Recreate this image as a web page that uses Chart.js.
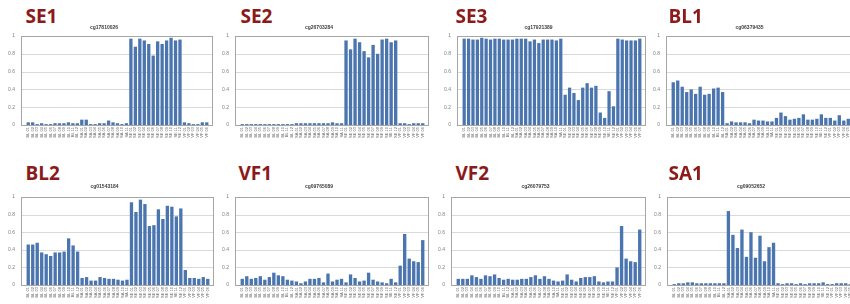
<!DOCTYPE html>
<html>
<head>
<meta charset="utf-8">
<script src="https://cdn.jsdelivr.net/npm/chart.js@4.4.0/dist/chart.umd.min.js"></script>
<style>
  body { margin: 0; width: 850px; height: 304px; overflow: hidden; background: #fff; position: relative; }
  .panel { position: absolute; }
  .tag { position: absolute; font-family: 'Open Sans', sans-serif; font-weight: bold; font-size: 19px; line-height: 19px; color: #8b1a1a; }
</style>
</head>
<body>
<script>
// sample labels on the x axis (BL, SA, SE, VF groups)
var categories = [
  'BL 01', 'BL 02', 'BL 03', 'BL 04', 'BL 05', 'BL 06', 'BL 07', 'BL 08', 'BL 09', 'BL 10', 'BL 11', 'BL 12',
  'SA 01', 'SA 02', 'SA 03', 'SA 04', 'SA 05', 'SA 06', 'SA 07', 'SA 08', 'SA 09', 'SA 10', 'SA 11',
  'SE 01', 'SE 02', 'SE 03', 'SE 04', 'SE 05', 'SE 06', 'SE 07', 'SE 08', 'SE 09', 'SE 10', 'SE 11', 'SE 12',
  'VF 01', 'VF 02', 'VF 03', 'VF 04', 'VF 05', 'VF 06'
];
var yTicks = [0, 0.2, 0.4, 0.6, 0.8, 1];

// methylation values per probe
var se1Values = [0.03, 0.03, 0.01, 0.02, 0.01, 0.01, 0.02, 0.02, 0.02, 0.03, 0.02, 0.02,
  0.06, 0.06, 0.01, 0.01, 0.02, 0.02, 0.05, 0.03, 0.02, 0.01, 0.02,
  0.97, 0.88, 0.97, 0.95, 0.91, 0.78, 0.94, 0.91, 0.95, 0.98, 0.95, 0.96,
  0.03, 0.02, 0.01, 0.01, 0.03, 0.03];
var se2Values = [0.01, 0.01, 0.01, 0.01, 0.01, 0.01, 0.01, 0.01, 0.01, 0.01, 0.01, 0.01,
  0.02, 0.02, 0.02, 0.02, 0.02, 0.02, 0.02, 0.02, 0.03, 0.02, 0.02,
  0.95, 0.85, 0.97, 0.93, 0.83, 0.76, 0.90, 0.80, 0.96, 0.97, 0.93, 0.95,
  0.02, 0.02, 0.01, 0.02, 0.02, 0.02];
var se3Values = [0.97, 0.97, 0.96, 0.96, 0.98, 0.97, 0.96, 0.97, 0.97, 0.96, 0.96, 0.96,
  0.97, 0.97, 0.97, 0.94, 0.96, 0.92, 0.96, 0.96, 0.96, 0.95, 0.97,
  0.34, 0.42, 0.36, 0.28, 0.42, 0.47, 0.42, 0.44, 0.14, 0.08, 0.38, 0.21,
  0.97, 0.96, 0.95, 0.95, 0.95, 0.97];
var bl1Values = [0.48, 0.50, 0.43, 0.37, 0.40, 0.35, 0.43, 0.34, 0.35, 0.41, 0.42, 0.37,
  0.02, 0.04, 0.03, 0.03, 0.03, 0.02, 0.06, 0.05, 0.05, 0.04, 0.04,
  0.08, 0.14, 0.10, 0.06, 0.07, 0.08, 0.12, 0.06, 0.06, 0.07, 0.12, 0.08,
  0.08, 0.05, 0.11, 0.05, 0.07, 0.07];
var bl2Values = [0.46, 0.46, 0.48, 0.37, 0.35, 0.33, 0.37, 0.37, 0.38, 0.53, 0.45, 0.38,
  0.08, 0.09, 0.05, 0.05, 0.09, 0.08, 0.07, 0.07, 0.06, 0.05, 0.06,
  0.94, 0.83, 0.97, 0.92, 0.67, 0.68, 0.86, 0.75, 0.90, 0.89, 0.78, 0.87,
  0.17, 0.08, 0.08, 0.07, 0.09, 0.07];
var vf1Values = [0.07, 0.10, 0.07, 0.08, 0.10, 0.06, 0.09, 0.14, 0.11, 0.10, 0.06, 0.05,
  0.04, 0.02, 0.04, 0.07, 0.07, 0.08, 0.03, 0.13, 0.04, 0.06, 0.07,
  0.03, 0.12, 0.08, 0.04, 0.05, 0.14, 0.06, 0.04, 0.03, 0.02, 0.07, 0.03,
  0.22, 0.58, 0.30, 0.27, 0.26, 0.51];
var vf2Values = [0.07, 0.07, 0.07, 0.11, 0.09, 0.07, 0.11, 0.10, 0.12, 0.08, 0.06, 0.07,
  0.06, 0.06, 0.07, 0.07, 0.09, 0.11, 0.07, 0.10, 0.07, 0.05, 0.04,
  0.05, 0.12, 0.06, 0.04, 0.08, 0.09, 0.09, 0.10, 0.04, 0.03, 0.04, 0.04,
  0.20, 0.67, 0.30, 0.27, 0.26, 0.63];
var sa1Values = [0.01, 0.02, 0.02, 0.03, 0.03, 0.02, 0.02, 0.02, 0.02, 0.02, 0.02, 0.02,
  0.84, 0.57, 0.42, 0.63, 0.32, 0.60, 0.31, 0.56, 0.27, 0.43, 0.48,
  0.02, 0.01, 0.02, 0.02, 0.01, 0.02, 0.01, 0.02, 0.02, 0.02, 0.03, 0.01,
  0.01, 0.02, 0.02, 0.02, 0.01, 0.02];

// plot box of each panel (left, right, top, bottom in page pixels)
var panels = [
  { tag: 'SE1', probe: 'cg17810026', values: se1Values, l: 21, r: 212, t: 36, b: 125, gap: 8, tagX: 25.5, tagY: 7 },
  { tag: 'SE2', probe: 'cg26703284', values: se2Values, l: 235, r: 428, t: 36, b: 125, gap: 8, tagX: 240.5, tagY: 7 },
  { tag: 'SE3', probe: 'cg17921389', values: se3Values, l: 457, r: 645, t: 36, b: 125, gap: 8, tagX: 455.5, tagY: 7 },
  { tag: 'BL1', probe: 'cg06379435', values: bl1Values, l: 666, r: 858, t: 36, b: 125, gap: 8, tagX: 668.5, tagY: 7 },
  { tag: 'BL2', probe: 'cg01543184', values: bl2Values, l: 21, r: 213, t: 197, b: 285, gap: 10, tagX: 25.5, tagY: 164 },
  { tag: 'VF1', probe: 'cg09765089', values: vf1Values, l: 235, r: 428, t: 197, b: 285, gap: 10, tagX: 238.5, tagY: 164 },
  { tag: 'VF2', probe: 'cg26079753', values: vf2Values, l: 451, r: 645, t: 197, b: 285, gap: 10, tagX: 455.5, tagY: 164 },
  { tag: 'SA1', probe: 'cg09052652', values: sa1Values, l: 667, r: 860, t: 197, b: 285, gap: 10, tagX: 668.5, tagY: 164 }
];

// frame and gridlines a little wider than the bar area, like the Excel plot box
var framePlugin = {
  id: 'frame',
  beforeDatasetsDraw: function(chart) {
    var ctx = chart.ctx, a = chart.chartArea, ys = chart.scales.y;
    var x0 = Math.round(a.left) - 5, x1 = Math.round(a.right) + 3;
    ctx.save();
    ctx.lineWidth = 1;
    ctx.strokeStyle = '#d9d9d9';
    yTicks.forEach(function(t) {
      if (t === 0 || t === 1) return;
      var py = Math.round(ys.getPixelForValue(t)) + 0.5;
      ctx.beginPath();
      ctx.moveTo(x0, py);
      ctx.lineTo(x1, py);
      ctx.stroke();
    });
    ctx.strokeStyle = '#a6a6a6';
    ctx.strokeRect(x0 + 0.5, Math.round(a.top) + 0.5, x1 - x0, Math.round(a.bottom - a.top));
    ctx.restore();
  }
};

panels.forEach(function(p) {
  var tag = document.createElement('div');
  tag.className = 'tag';
  tag.style.left = p.tagX + 'px';
  tag.style.top = p.tagY + 'px';
  tag.textContent = p.tag;
  document.body.appendChild(tag);

  var w = p.r - p.l + 24, h = p.b - p.t + 24 + 18;
  var box = document.createElement('div');
  box.className = 'panel';
  box.style.left = (p.l - 22) + 'px';
  box.style.top = (p.t - 24) + 'px';
  box.style.width = w + 'px';
  box.style.height = h + 'px';
  var canvas = document.createElement('canvas');
  canvas.width = w;
  canvas.height = h;
  box.appendChild(canvas);
  document.body.appendChild(box);

  new Chart(canvas.getContext('2d'), {
    type: 'bar',
    data: {
      labels: categories,
      datasets: [{
        data: p.values,
        backgroundColor: '#4a75ae',
        borderColor: '#3d6399',
        borderWidth: 0,
        barPercentage: 0.74,
        categoryPercentage: 1
      }]
    },
    options: {
      responsive: false,
      devicePixelRatio: 1,
      animation: false,
      layout: { padding: { left: 0, right: 5, top: 0, bottom: 0 } },
      plugins: {
        legend: { display: false },
        tooltip: { enabled: false },
        title: {
          display: true,
          text: p.probe,
          color: '#404040',
          font: { family: 'Liberation Sans', size: 5 },
          padding: { top: 21 - p.gap, bottom: p.gap - 3 }
        }
      },
      scales: {
        x: {
          grid: { display: false, drawTicks: false },
          border: { display: false },
          afterFit: function(s) { s.height = 18; },
          ticks: {
            autoSkip: false,
            minRotation: 90,
            maxRotation: 90,
            padding: 2,
            color: '#6b6b6b',
            font: { family: 'Liberation Sans', size: 4 }
          }
        },
        y: {
          min: 0,
          max: 1,
          grid: { display: false, drawTicks: false },
          border: { display: false },
          afterFit: function(s) { s.width = 27; },
          ticks: {
            stepSize: 0.2,
            padding: 11,
            color: '#7f7f7f',
            font: { family: 'Liberation Sans', size: 5 },
            callback: function(v) { return +v.toFixed(1); }
          }
        }
      }
    },
    plugins: [framePlugin]
  });
});
</script>
</body>
</html>
